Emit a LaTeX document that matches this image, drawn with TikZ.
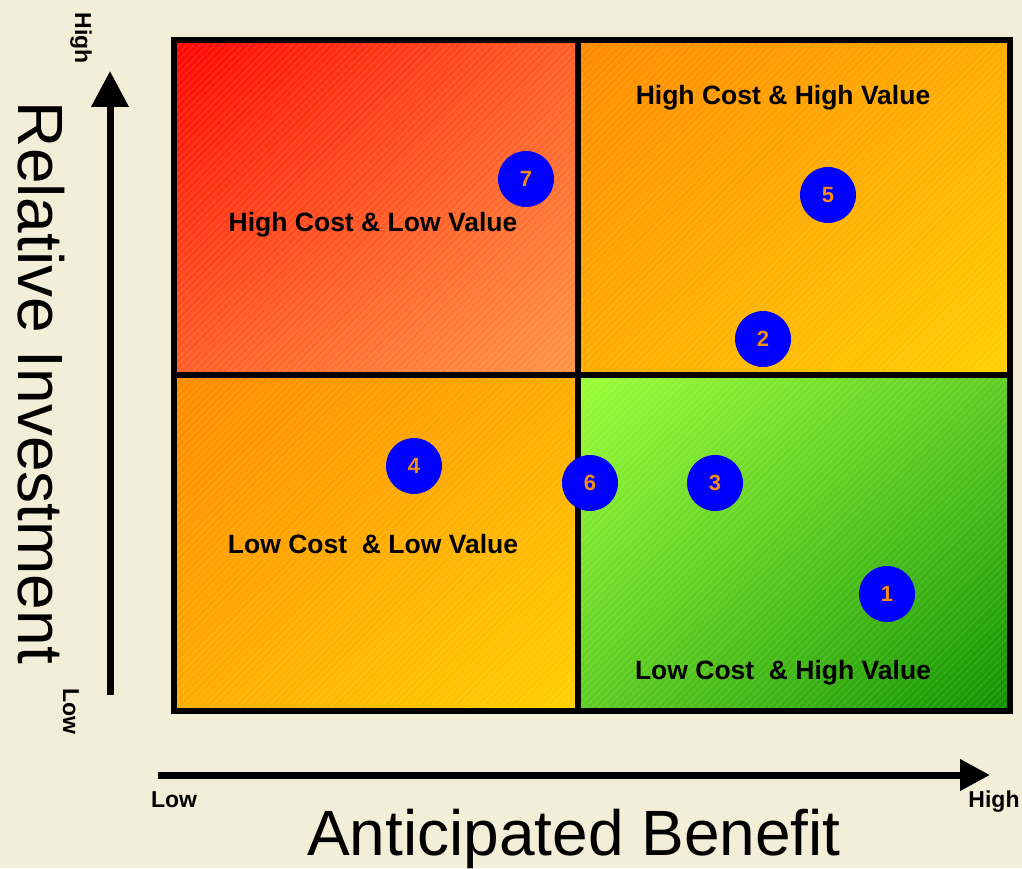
\documentclass[tikz,border=0pt]{standalone}
\usepackage{fontspec}
\setmainfont{Liberation Sans}
\usetikzlibrary{arrows.meta,patterns.meta,shadings}

\definecolor{paper}{RGB}{242,238,215}
\definecolor{itemblue}{RGB}{0,0,255}
\definecolor{itemorange}{RGB}{245,140,20}
% quadrant corner colours
\definecolor{redA}{RGB}{255,5,0}
\definecolor{redB}{RGB}{255,95,40}
\definecolor{redC}{RGB}{255,150,70}
\definecolor{orA}{RGB}{255,138,0}
\definecolor{orB}{RGB}{255,172,0}
\definecolor{orC}{RGB}{255,208,0}
\definecolor{grA}{RGB}{155,255,55}
\definecolor{grB}{RGB}{95,205,35}
\definecolor{grC}{RGB}{15,145,0}

\begin{document}
\begin{tikzpicture}[x=1pt,y=1pt,
  quadlabel/.style={font=\fontsize{26.5}{30}\selectfont\bfseries, text=black, inner sep=0pt},
  item/.style={circle, fill=itemblue, minimum size=56pt, inner sep=0pt,
    font=\fontsize{22}{26}\selectfont\bfseries, text=itemorange},
  gridline/.style={line width=6pt, line cap=rect},
  axisline/.style={line width=7pt},
  endlabel/.style={font=\fontsize{23}{28}\selectfont\bfseries, inner sep=0pt},
  axistitle/.style={font=\fontsize{64}{70}\selectfont, inner sep=0pt},
  texture/.style={pattern={Lines[angle=45,distance=5pt,line width=1.2pt]},
    pattern color=white, opacity=0.11}
]
% page
\fill[paper] (0,0) rectangle (1022,868);
\useasboundingbox (0,0) rectangle (1022,868);

% quadrant fills
\shade[upper left=redA, upper right=redB, lower left=redB, lower right=redC]
  (174,493) rectangle (578,828);
\shade[upper left=orA, upper right=orB, lower left=orB, lower right=orC]
  (578,493) rectangle (1010,828);
\shade[upper left=orA, upper right=orB, lower left=orB, lower right=orC]
  (174,157) rectangle (578,493);
\shade[upper left=grA, upper right=grB, lower left=grB, lower right=grC]
  (578,157) rectangle (1010,493);
\fill[texture] (174,157) rectangle (1010,828);

% frame and dividers
\draw[gridline] (174,157) rectangle (1010,828);
\draw[gridline] (578,157) -- (578,828);
\draw[gridline] (174,493) -- (1010,493);

% quadrant captions
\node[quadlabel] (hchv) at (783,770) {High Cost \& High Value};
\node[quadlabel] (hclv) at (373,643) {High Cost \& Low Value};
\node[quadlabel] (lclv) at (373,324) {Low Cost\ \ \& Low Value};
\node[quadlabel] (lchv) at (783,195) {Low Cost\ \ \& High Value};

% numbered items
\node[item] (c7) at (526,689) {7};
\node[item] (c5) at (828,673) {5};
\node[item] (c2) at (763,529) {2};
\node[item] (c4) at (414,402) {4};
\node[item] (c6) at (590,385) {6};
\node[item] (c3) at (715,385) {3};
\node[item] (c1) at (887,274) {1};

% vertical axis
\coordinate (vbase) at (110,173);
\coordinate (vtip) at (110,797);
\draw[axisline, -{Triangle[length=36pt,width=36pt]}] (vbase) -- (vtip);
\node[endlabel, rotate=-90, anchor=base] (vhigh) at (75,830) {High};
\node[endlabel, rotate=-90, anchor=base] (vlow) at (63,157) {Low};
\node[axistitle, rotate=-90, anchor=base] (vtitle) at (18,485) {Relative Investment};

% horizontal axis
\coordinate (hbase) at (158,93);
\coordinate (htip) at (990,93);
\draw[axisline, -{Triangle[length=30pt,width=30pt]}] (hbase) -- (htip);
\node[endlabel, anchor=base] (hlow) at (174,61) {Low};
\node[endlabel, anchor=base] (hhigh) at (994,61) {High};
\node[axistitle, anchor=base] (htitle) at (574,13) {Anticipated Benefit};
\end{tikzpicture}
\end{document}
